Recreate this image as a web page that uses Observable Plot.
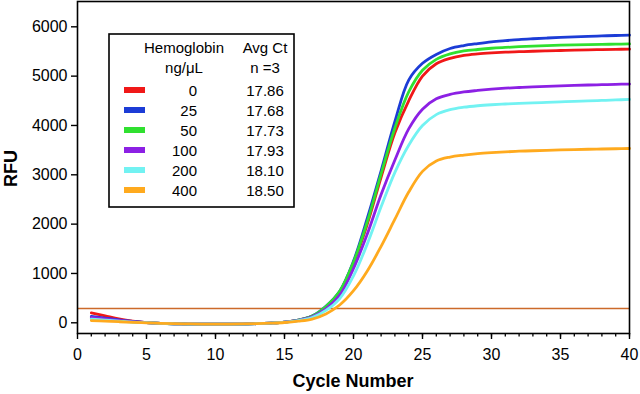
<!DOCTYPE html>
<html>
<head>
<meta charset="utf-8">
<script src="https://cdn.jsdelivr.net/npm/d3@7"></script>
<script src="https://cdn.jsdelivr.net/npm/@observablehq/plot@0.6"></script>
<style>
  html, body { margin: 0; padding: 0; background: #fff; }
  #chart svg { display: block; }
</style>
</head>
<body>
<div id="chart"></div>
<script>
// ---- data ----
const cycles = [1,2,3,4,5,6,7,8,9,10,11,12,13,14,15,16,17,18,19,20,21,22,23,24,25,26,27,28,29,30,31,32,33,34,35,36,37,38,39,40];
const concentrations = ["0", "25", "50", "100", "200", "400"];
const avgCt = ["17.86", "17.68", "17.73", "17.93", "18.10", "18.50"];
const seriesColors = ["#f01818", "#1c3cd6", "#30e030", "#8c20e4", "#72f2f2", "#ffaa1e"];
const threshold = 290;
const xTicks = [0, 5, 10, 15, 20, 25, 30, 35, 40];
const yTicks = [0, 1000, 2000, 3000, 4000, 5000, 6000];

const rfu0   = [200,140,80,35,5,-10,-20,-25,-28,-28,-27,-25,-18,-5,15,55,130,300,620,1200,2000,2950,3850,4500,5000,5250,5360,5420,5450,5470,5485,5495,5505,5513,5520,5527,5533,5538,5543,5548];
const rfu25  = [130,95,60,28,5,-10,-20,-25,-28,-28,-27,-25,-18,-5,15,55,135,335,640,1250,2120,3080,4080,4920,5260,5440,5560,5620,5660,5695,5720,5742,5758,5772,5785,5796,5806,5815,5824,5832];
const rfu50  = [85,60,38,18,3,-10,-20,-25,-28,-28,-27,-25,-18,-5,15,55,135,330,640,1230,2050,3020,3950,4680,5120,5340,5450,5510,5540,5565,5582,5597,5608,5618,5627,5634,5640,5645,5648,5652];
const rfu100 = [110,80,50,25,5,-10,-20,-25,-28,-28,-27,-25,-18,-5,15,50,120,285,560,1100,1800,2600,3300,3930,4330,4540,4630,4680,4710,4735,4755,4770,4782,4793,4803,4812,4820,4827,4834,4840];
const rfu200 = [75,55,35,15,2,-10,-20,-25,-28,-28,-27,-25,-18,-6,12,45,105,250,490,950,1600,2350,3050,3600,4000,4220,4320,4370,4400,4420,4435,4447,4458,4468,4478,4488,4497,4507,4517,4527];
const rfu400 = [45,35,22,10,0,-10,-18,-22,-25,-25,-25,-22,-17,-8,6,32,75,180,360,650,1050,1550,2100,2650,3070,3280,3360,3400,3430,3450,3465,3478,3488,3497,3505,3512,3518,3523,3528,3533];

const allSeries = [rfu0, rfu25, rfu50, rfu100, rfu200, rfu400];

// ---- chart ----
const W = 640, H = 394;
const lineMarks = allSeries.map((vals, i) =>
  Plot.line(cycles.map((c, j) => ({cycle: c, rfu: vals[j]})), {
    x: "cycle", y: "rfu", stroke: seriesColors[i], strokeWidth: 2.8, curve: "catmull-rom"
  })
);

const chart = Plot.plot({
  width: W,
  height: H,
  marginLeft: 77,
  marginRight: 11,
  marginTop: 1,
  marginBottom: 61,
  style: {fontFamily: "'Liberation Sans', Arial, sans-serif", background: "#fff", color: "#000"},
  x: {domain: [0, 40]},
  y: {domain: [-217, 6513]},
  marks: [
    Plot.ruleY([threshold], {stroke: "#cc6a2a", strokeWidth: 1.6}),
    ...lineMarks,
    Plot.frame({stroke: "#000", strokeWidth: 1.6}),
    Plot.axisX({ticks: cycles, tickSize: 3.5, text: null, label: null, strokeWidth: 1.3}),
    Plot.axisX({ticks: xTicks, tickSize: 6, tickPadding: 9, fontSize: 16, label: null, strokeWidth: 1.4, tickFormat: d3.format("d")}),
    Plot.axisY({ticks: yTicks, tickSize: 6, tickPadding: 4, fontSize: 16, label: null, strokeWidth: 1.4, tickFormat: d3.format("d")})
  ]
});

document.getElementById("chart").appendChild(chart);

// ---- titles and legend ----
const svg = d3.select(chart);
const font = "'Liberation Sans', Arial, sans-serif";

svg.append("text")
  .attr("transform", "translate(17,168.5) rotate(-90)")
  .attr("text-anchor", "middle")
  .attr("font-family", font).attr("font-size", 18).attr("font-weight", "bold")
  .attr("fill", "#000")
  .text("RFU");

svg.append("text")
  .attr("x", 353).attr("y", 387)
  .attr("text-anchor", "middle")
  .attr("font-family", font).attr("font-size", 18).attr("font-weight", "bold")
  .attr("fill", "#000")
  .text("Cycle Number");

const lg = svg.append("g").attr("font-family", font).attr("font-size", 15).attr("fill", "#000");
lg.append("rect").attr("x", 109).attr("y", 34).attr("width", 185).attr("height", 173)
  .attr("fill", "#fff").attr("stroke", "#000").attr("stroke-width", 1.6);
lg.append("text").attr("x", 184).attr("y", 53).attr("text-anchor", "middle").text("Hemoglobin");
lg.append("text").attr("x", 184).attr("y", 73).attr("text-anchor", "middle").text("ng/μL");
lg.append("text").attr("x", 265).attr("y", 53).attr("text-anchor", "middle").text("Avg Ct");
lg.append("text").attr("x", 265).attr("y", 73).attr("text-anchor", "middle").text("n =3");
concentrations.forEach((c, i) => {
  const base = 96 + i * 20;
  lg.append("rect").attr("x", 124).attr("y", base - 9).attr("width", 21).attr("height", 6)
    .attr("fill", seriesColors[i]);
  lg.append("text").attr("x", 197).attr("y", base).attr("text-anchor", "end").text(c);
  lg.append("text").attr("x", 265).attr("y", base).attr("text-anchor", "middle").text(avgCt[i]);
});
</script>
</body>
</html>
